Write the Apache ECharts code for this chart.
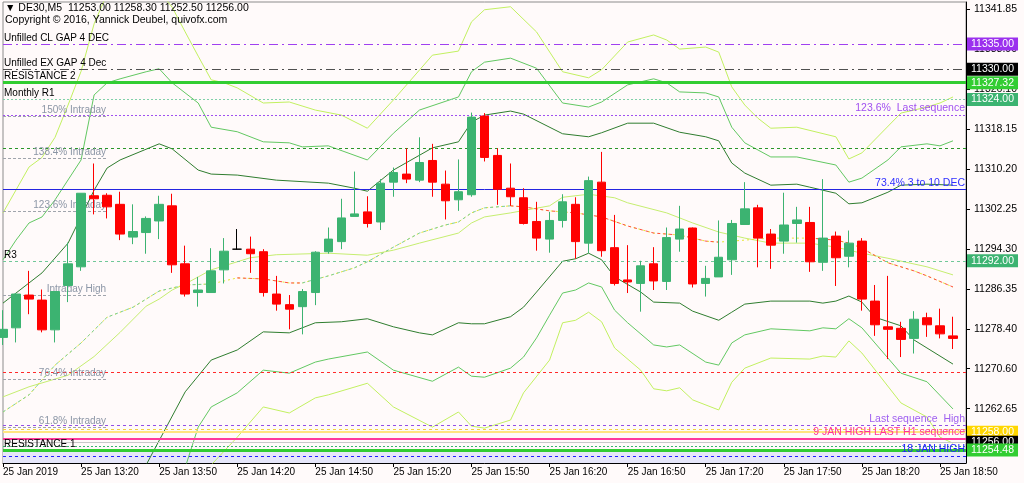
<!DOCTYPE html>
<html>
<head>
<meta charset="utf-8">
<script src="https://cdn.jsdelivr.net/npm/echarts@6/dist/echarts.min.js"></script>
<style>
html, body { margin: 0; padding: 0; background: #fffafa; }
#chart { width: 1024px; height: 483px; }
</style>
</head>
<body>
<div id="chart"></div>
<script>
// DE30 M5, 25 Jan 2019
var times = ['12:50','12:55',
  '13:00','13:05','13:10','13:15','13:20','13:25','13:30','13:35','13:40','13:45','13:50','13:55',
  '14:00','14:05','14:10','14:15','14:20','14:25','14:30','14:35','14:40','14:45','14:50','14:55',
  '15:00','15:05','15:10','15:15','15:20','15:25','15:30','15:35','15:40','15:45','15:50','15:55',
  '16:00','16:05','16:10','16:15','16:20','16:25','16:30','16:35','16:40','16:45','16:50','16:55',
  '17:00','17:05','17:10','17:15','17:20','17:25','17:30','17:35','17:40','17:45','17:50','17:55',
  '18:00','18:05','18:10','18:15','18:20','18:25','18:30','18:35','18:40','18:45','18:50','18:55'];

var opens  = [11276.8,11278.7,11285.2,11284.2,11278.3,11287.1,11290.8,11304.9,11305.0,11303.2,11296.7,11297.6,11299.9,11302.9,11291.4,11285.7,11285.7,11290.2,11294.3,11294.3,11293.8,11285.4,11283.3,11282.9,11285.7,11293.8,11295.8,11300.8,11301.7,11299.7,11307.6,11309.2,11308.0,11311.9,11307.2,11304.1,11305.1,11320.7,11312.9,11306.4,11304.5,11299.8,11296.3,11300.0,11303.2,11295.5,11307.6,11294.6,11288.2,11287.5,11291.4,11287.9,11296.3,11298.5,11287.5,11288.8,11292.2,11299.2,11302.5,11297.3,11295.9,11299.4,11299.6,11291.7,11296.9,11292.9,11295.9,11284.0,11278.9,11278.6,11276.6,11280.7,11279.1,11277.1];
var highs  = [11282.2,11285.6,11290.0,11286.3,11286.0,11295.6,11305.4,11311.3,11305.4,11305.7,11303.2,11300.8,11304.9,11305.3,11295.0,11288.8,11294.5,11296.5,11298.3,11296.8,11294.3,11289.0,11285.2,11286.4,11293.9,11298.6,11304.3,11309.7,11304.8,11308.2,11310.5,11314.3,11316.5,11315.2,11309.9,11312.1,11321.4,11321.3,11314.3,11311.3,11306.4,11303.7,11301.7,11305.2,11304.6,11308.7,11313.6,11301.1,11295.1,11292.0,11294.7,11298.6,11302.9,11298.6,11291.0,11300.0,11300.1,11307.6,11303.1,11298.3,11305.5,11302.7,11302.7,11308.2,11297.8,11298.0,11296.5,11287.2,11289.0,11279.9,11282.0,11281.7,11282.5,11280.9];
var lows   = [11275.3,11275.8,11281.4,11277.8,11275.8,11283.8,11290.0,11301.2,11300.4,11296.1,11295.3,11293.4,11296.3,11289.6,11284.9,11282.9,11285.7,11287.5,11294.2,11289.6,11284.9,11282.1,11278.4,11277.4,11283.2,11293.4,11294.3,11300.8,11298.6,11298.1,11304.7,11307.4,11307.6,11304.7,11300.2,11301.9,11304.7,11311.7,11303.1,11302.9,11299.2,11294.0,11293.6,11298.6,11292.4,11293.5,11292.8,11287.1,11285.6,11281.9,11286.2,11286.2,11293.8,11286.7,11284.9,11288.8,11289.2,11299.2,11290.7,11290.4,11293.4,11295.6,11289.8,11290.0,11287.0,11290.7,11282.1,11277.1,11272.5,11272.9,11273.6,11276.9,11276.6,11274.5];
var closes = [11278.4,11285.4,11284.4,11278.3,11285.9,11291.4,11305.4,11304.3,11302.7,11297.3,11297.8,11300.4,11303.2,11291.2,11285.4,11286.2,11290.0,11293.9,11294.3,11293.4,11285.7,11283.4,11282.4,11285.9,11293.7,11296.3,11300.5,11301.3,11299.4,11307.4,11309.5,11308.2,11311.5,11307.6,11303.9,11305.7,11320.5,11312.5,11306.2,11304.7,11299.4,11296.5,11300.0,11303.7,11295.8,11307.9,11294.0,11287.5,11287.8,11291.0,11288.0,11296.6,11298.3,11287.4,11288.5,11292.7,11299.4,11302.3,11296.5,11295.1,11299.1,11300.1,11291.8,11296.5,11292.6,11295.5,11284.4,11279.3,11278.4,11276.4,11280.4,11279.3,11277.5,11276.6];

// envelope lines, read as [bar index, price]
var darkUpper = [[0,11283.6],[3,11289.6],[5,11295.5],[7,11306.0],[8,11310.4],[9,11312.0],[12,11315.2],[13,11314.2],[15,11310.0],[16,11309.2],[18,11309.0],[21,11308.0],[25,11307.4],[27,11306.4],[28,11305.8],[30,11310.0],[33,11314.4],[35,11315.6],[36,11319.5],[37,11320.9],[39,11321.7],[40,11321.1],[43,11317.2],[45,11316.6],[46,11317.4],[48,11319.3],[50,11319.3],[52,11317.5],[54,11316.6],[55,11315.8],[56,11311.4],[57,11309.4],[59,11307.0],[61,11307.2],[62,11306.6],[64,11305.4],[65,11303.3],[66,11303.5],[68,11305.6],[69,11307.0],[71,11307.2],[73,11307.0]];
var darkLower = [[10,11248.5],[11,11251.5],[14,11266.0],[16,11272.3],[18,11274.3],[20,11277.9],[22,11277.7],[24,11279.7],[26,11279.9],[28,11280.5],[30,11278.9],[32,11277.7],[33,11277.3],[35,11279.7],[36,11279.5],[37,11279.5],[39,11280.9],[40,11282.8],[41,11285.8],[43,11291.9],[44,11292.4],[45,11293.5],[46,11292.2],[47,11288.8],[49,11285.8],[50,11283.8],[52,11283.6],[53,11282.0],[55,11280.2],[56,11281.8],[57,11283.4],[59,11284.0],[62,11284.0],[63,11283.6],[64,11284.0],[65,11285.0],[66,11283.8],[67,11280.8],[69,11279.1],[70,11276.3],[71,11274.7],[73,11271.5]];
var midUpper = [[0,11292.2],[1,11296.1],[2,11299.5],[3,11300.7],[4,11304.1],[6,11312.0],[7,11324.9],[8,11327.3],[9,11328.1],[11,11329.5],[12,11330.1],[13,11327.3],[15,11323.3],[16,11318.5],[18,11317.6],[20,11315.6],[22,11315.4],[23,11314.6],[25,11314.8],[28,11312.0],[30,11317.3],[32,11321.9],[35,11324.5],[36,11329.5],[37,11331.4],[39,11332.2],[41,11330.2],[43,11323.3],[45,11322.5],[46,11323.5],[48,11326.9],[50,11328.1],[51,11327.3],[52,11325.5],[54,11325.3],[55,11324.5],[56,11318.5],[57,11315.4],[59,11312.6],[61,11312.6],[64,11311.0],[65,11307.6],[66,11308.4],[68,11312.0],[69,11314.6],[71,11315.2],[72,11314.8],[73,11315.8]];
var midLower = [[13,11247.5],[14,11251.0],[15,11259.0],[16,11263.0],[18,11265.8],[20,11270.3],[22,11269.7],[24,11271.9],[25,11272.5],[28,11273.9],[30,11270.3],[33,11268.1],[35,11270.9],[36,11269.1],[37,11268.9],[39,11270.7],[40,11272.9],[41,11276.7],[42,11281.2],[43,11285.6],[44,11286.2],[45,11287.6],[46,11286.8],[47,11282.2],[48,11279.7],[50,11275.3],[51,11274.9],[52,11275.3],[54,11271.9],[55,11271.3],[56,11275.7],[57,11277.3],[59,11278.5],[62,11278.1],[63,11278.7],[64,11278.5],[65,11280.5],[66,11278.7],[69,11269.7],[71,11268.0],[73,11262.6]];
var lightUpper = [[0,11301.5],[2,11310.6],[3,11312.5],[4,11316.5],[5,11322.9],[6,11329.6],[7,11339.0],[8,11345.0],[9,11347.0],[10,11349.0],[11,11348.5],[12,11345.5],[13,11342.3],[14,11337.4],[15,11332.6],[16,11327.9],[17,11327.3],[18,11326.3],[20,11323.3],[22,11323.5],[24,11321.9],[26,11320.9],[28,11318.3],[30,11323.9],[33,11332.8],[35,11333.6],[36,11339.4],[37,11341.8],[39,11342.4],[41,11337.4],[43,11329.5],[45,11328.3],[46,11329.9],[48,11335.4],[50,11336.8],[51,11335.8],[52,11334.0],[54,11334.4],[55,11333.4],[56,11326.5],[57,11322.9],[58,11320.3],[59,11318.3],[61,11318.5],[64,11316.6],[65,11312.2],[66,11313.4],[69,11321.3],[71,11322.5],[72,11323.3],[73,11324.5]];
var lightLower = [[15,11248.0],[16,11251.5],[18,11257.0],[20,11263.0],[22,11261.8],[24,11264.8],[25,11265.4],[28,11267.7],[30,11263.0],[33,11259.0],[35,11262.0],[36,11259.2],[37,11258.8],[39,11260.4],[40,11265.8],[42,11272.3],[43,11279.7],[44,11280.2],[45,11281.8],[46,11279.9],[47,11274.7],[49,11270.3],[50,11266.6],[51,11266.2],[52,11266.8],[53,11264.4],[55,11262.4],[56,11267.9],[57,11270.7],[59,11272.7],[62,11272.5],[63,11273.1],[64,11272.9],[65,11276.1],[66,11273.7],[69,11263.8],[71,11261.0],[72,11257.0],[73,11255.8]];
var smaLine = [[0,11265.0],[2,11267.0],[5,11269.3],[7,11273.0],[9,11277.8],[11,11283.0],[12,11284.4],[13,11286.2],[14,11287.4],[15,11288.8],[16,11290.2],[19,11292.6],[21,11293.2],[25,11293.5],[28,11293.1],[30,11294.1],[32,11295.5],[35,11297.5],[36,11299.5],[37,11300.7],[39,11301.5],[42,11302.9],[43,11304.6],[45,11305.2],[47,11304.5],[48,11303.5],[51,11301.5],[53,11299.5],[55,11297.7],[57,11296.5],[59,11295.5],[62,11295.5],[64,11294.7],[66,11293.5],[68,11292.5],[71,11290.8],[73,11289.2]];
var maLine = [[0,11262.0],[2,11265.4],[4,11271.3],[6,11275.7],[8,11280.8],[10,11282.8],[12,11286.0],[14,11287.2],[16,11287.4],[18,11288.6],[20,11288.4],[22,11287.6],[23,11287.6],[25,11289.0],[27,11290.6],[28,11291.8],[30,11294.7],[32,11297.5],[34,11299.1],[35,11299.7],[36,11301.5],[37,11302.5],[39,11302.9],[40,11302.7],[42,11301.9],[44,11301.5],[46,11300.7],[48,11298.9],[50,11297.5],[52,11297.1],[54,11295.9],[55,11295.7],[57,11296.1],[59,11296.5],[62,11296.5],[64,11296.1],[65,11295.5],[66,11294.5],[68,11291.6],[70,11290.0],[71,11289.0],[73,11286.8]];
var maRising = [[0,17],[23,39]];
var maFalling = [[18,23],[39,55],[62,73]];

// horizontal levels
var levelPrices = [11335.00,11330.00,11327.32,11324.00,11320.92,11314.38,11306.18,11292.00,11269.90,11259.36,11258.60,11258.00,11256.70,11256.00,11255.20,11254.48,11253.27];
var levelLeftText = ['Unfilled CL GAP 4 DEC','Unfilled EX GAP 4 Dec','RESISTANCE 2','Monthly R1','','','','R3','','','','','','','','RESISTANCE 1',''];
var levelRightText = ['','','','','123.6%  Last sequence','','73.4% 3 to 10 DEC','','','Last sequence  High','','','9 JAN HIGH LAST H1 sequence','','','','18 JAN HIGH'];
var levelAxisText = ['11335.00','11330.00','11327.32','11324.00','','','','11292.00','','','','11258.00','','11256.00','','11254.48',''];
var intradayPrices = [11320.7,11312.3,11301.9,11285.2,11268.5,11259.0];
var intradayText = ['150% Intraday','138.4% Intraday','123.6% Intraday','Intraday High','76.4% Intraday','61.8% Intraday'];
var zoneTop = 11254.3, zoneBottom = 11251.88;
var yTicks = [11262.65,11270.60,11278.40,11286.35,11294.30,11302.25,11310.20,11318.15,11326.10,11333.90,11341.85];

var FONT = '"Liberation Sans", Arial, sans-serif';

var levelStyle = [
  {color:'#a040f0', type:[9,4,2,4], width:1},
  {color:'#505050', type:[9,4,2,4], width:1},
  {color:'#32cd32', type:'solid', width:3},
  {color:'#80d0a8', type:[2,2], width:1},
  {color:'#a050f0', type:[2,2], width:1},
  {color:'#2a962a', type:[3,3], width:1},
  {color:'#2424e0', type:'solid', width:1},
  {color:'#70c898', type:[3,3], width:1},
  {color:'#ff2a2a', type:[3,3], width:1},
  {color:'#9450e6', type:[3,3], width:1},
  {color:'#f0d040', type:[3,3], width:1},
  {color:'#ffe680', type:'solid', width:2},
  {color:'#ff3b9d', type:'solid', width:2},
  {color:'#c8c8c8', type:'solid', width:1},
  {color:'#3cb371', type:[2,2], width:1},
  {color:'#32cd32', type:'solid', width:3},
  {color:'#2020ff', type:[3,3], width:1}
];
var rightTextColor = {4:'#a050f0', 6:'#3030ff', 9:'#a060f0', 12:'#ff3399', 16:'#2020ff'};
var boxColor = {0:'#9b30ee', 1:'#000000', 2:'#32cd32', 3:'#3cb371', 7:'#3cb371', 11:'#ffd700', 13:'#000000', 15:'#32cd32'};
var HIDDEN = {color: 'rgba(0,0,0,0)', width: 1};

var markData = [];
levelPrices.forEach(function (p, i) {
  markData.push({yAxis: p, lineStyle: levelStyle[i], label: {show: false}});
  if (levelLeftText[i]) {
    markData.push({yAxis: p, lineStyle: HIDDEN, label: {show: true, position: 'insideStartTop', distance: 1,
      formatter: levelLeftText[i], color: '#000', fontSize: 10, fontFamily: FONT}});
  }
  if (levelRightText[i]) {
    markData.push({yAxis: p, lineStyle: HIDDEN, label: {show: true, position: 'insideEndTop', distance: 1,
      formatter: levelRightText[i], color: rightTextColor[i], fontSize: 10.5, fontFamily: FONT}});
  }
  if (levelAxisText[i]) {
    markData.push({yAxis: p, lineStyle: HIDDEN, label: {show: true, position: 'end', distance: 1,
      formatter: levelAxisText[i], color: '#fff', backgroundColor: boxColor[i], padding: [1, 4, 1, 4],
      fontSize: 10.5, fontFamily: FONT}});
  }
});
intradayPrices.forEach(function (p, i) {
  markData.push([
    {coord: [times[0], p], lineStyle: {color: '#a0a4ac', type: [3, 2], width: 1},
     label: {show: true, position: 'insideEndTop', distance: 1, formatter: intradayText[i],
             color: '#8c96a6', fontSize: 10, fontFamily: FONT}},
    {coord: [times[8], p]}
  ]);
});

function pick(pts, range) {
  return pts.filter(function (d) { return d[0] >= range[0] && d[0] <= range[1]; });
}
function lineSeries(data, color, z, type) {
  return {type: 'line', data: data, symbol: 'none', silent: true, z: z,
          lineStyle: {color: color, width: 1, type: type || 'solid'}};
}

var series = [
  {type: 'line', data: [], silent: true, z: 1,
   markLine: {symbol: 'none', silent: true, animation: false, data: markData},
   markArea: {silent: true, itemStyle: {color: '#e6e6fa'},
              data: [[{yAxis: zoneTop}, {yAxis: zoneBottom}]]}},
  lineSeries(darkUpper, '#2f7d2f', 2),
  lineSeries(darkLower, '#2f7d2f', 2),
  lineSeries(midUpper, '#62c862', 2),
  lineSeries(midLower, '#62c862', 2),
  lineSeries(lightUpper, '#c2f060', 2),
  lineSeries(lightLower, '#c2f060', 2),
  lineSeries(smaLine, '#c6ee70', 2),
  lineSeries(maLine, '#e6e630', 3, [2, 3])
];
maRising.forEach(function (r) { series.push(lineSeries(pick(maLine, r), '#7ccf9a', 3, [3, 3])); });
maFalling.forEach(function (r) { series.push(lineSeries(pick(maLine, r), '#ff5040', 3, [3, 3])); });

series.push({
  type: 'candlestick', z: 5, barWidth: 9, silent: true,
  data: opens.map(function (o, i) { return [o, closes[i], lows[i], highs[i]]; }),
  itemStyle: {color: '#3cb371', color0: '#ff0000', borderColor: '#3cb371', borderColor0: '#ff0000',
              borderColorDoji: '#000000', borderWidth: 1}
});

var chart = echarts.init(document.getElementById('chart'));
chart.setOption({
  animation: false,
  backgroundColor: '#fffafa',
  textStyle: {fontFamily: FONT},
  grid: {left: 3, right: 58, top: 2, bottom: 20, show: true, borderColor: '#8c8c8c', borderWidth: 1},
  xAxis: {
    type: 'category', data: times.concat(['']), boundaryGap: false,
    axisLine: {lineStyle: {color: '#000'}},
    axisTick: {interval: function (i) { return i % 6 === 0; }, length: 4, lineStyle: {color: '#000'}},
    axisLabel: {
      interval: function (i) { return i % 6 === 0 && i < times.length; },
      align: 'left', margin: 4, color: '#000', fontSize: 10, fontFamily: FONT,
      formatter: function (v, i) { return i === 0 ? '25 Jan 2019' : '25 Jan ' + v; }
    },
    splitLine: {show: false}
  },
  yAxis: {
    type: 'value', position: 'right', min: 11251.88, max: 11343.34,
    axisLine: {show: true, lineStyle: {color: '#000'}},
    axisTick: {show: true, length: 4, customValues: yTicks, lineStyle: {color: '#000'}},
    axisLabel: {customValues: yTicks, margin: 8, color: '#000', fontSize: 10.5, fontFamily: FONT,
                formatter: function (v) { return v.toFixed(2); }},
    splitLine: {show: false}
  },
  graphic: [
    {type: 'text', left: 5, top: 3, z: 100,
     style: {text: '\u25BC DE30,M5  11253.00 11258.30 11252.50 11256.00', fill: '#000', font: '10.5px ' + FONT}},
    {type: 'text', left: 5, top: 15, z: 100,
     style: {text: 'Copyright \u00A9 2016, Yannick Deubel, quivofx.com', fill: '#000', font: '10.5px ' + FONT}}
  ],
  series: series
});
</script>
</body>
</html>
